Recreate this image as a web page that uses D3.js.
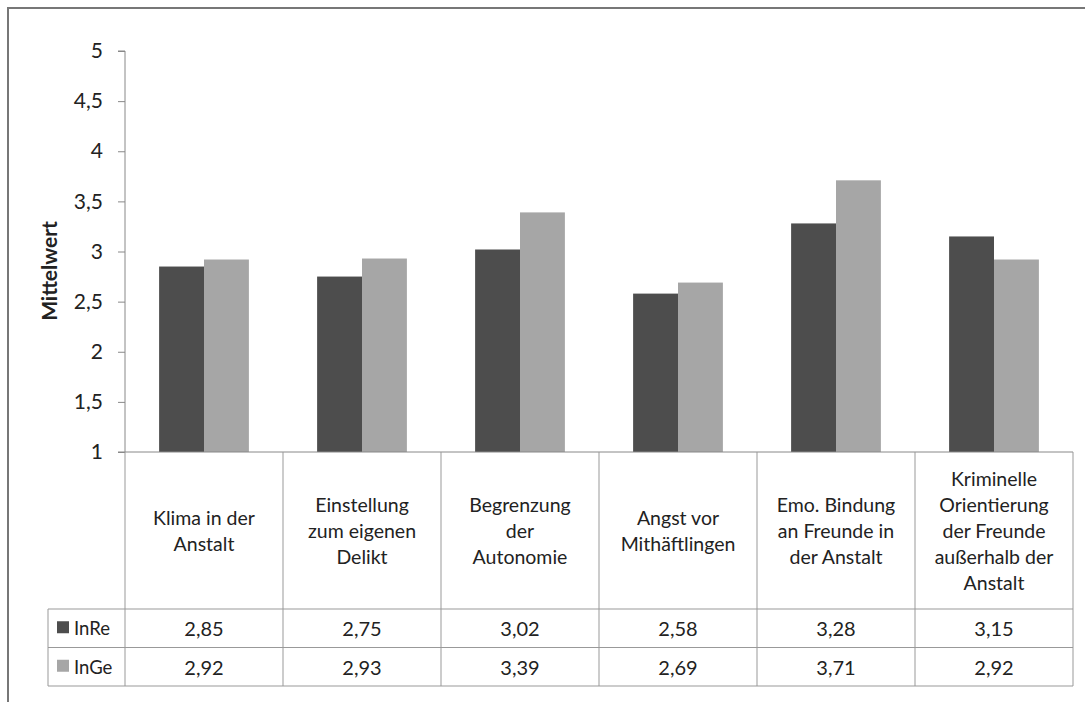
<!DOCTYPE html>
<html>
<head>
<meta charset="utf-8">
<script src="https://cdn.jsdelivr.net/npm/d3@7"></script>
<style>
  body { margin: 0; background: #fff; }
  text { font-family: Lato, "Open Sans", sans-serif; fill: #222; }
</style>
</head>
<body>
<script>
/* global d3 */

const categories = [
  ['Klima in der', 'Anstalt'],
  ['Einstellung', 'zum eigenen', 'Delikt'],
  ['Begrenzung', 'der', 'Autonomie'],
  ['Angst vor', 'Mithäftlingen'],
  ['Emo. Bindung', 'an Freunde in', 'der Anstalt'],
  ['Kriminelle', 'Orientierung', 'der Freunde', 'außerhalb der', 'Anstalt']
]
const seriesNames = ['InRe', 'InGe']
const inRe = [2.85, 2.75, 3.02, 2.58, 3.28, 3.15]
const inGe = [2.92, 2.93, 3.39, 2.69, 3.71, 2.92]
const yTicks = [1, 1.5, 2, 2.5, 3, 3.5, 4, 4.5, 5]
const colors = ['#4d4d4d', '#a6a6a6']

const W = 1085, H = 702
const plotL = 125, plotR = 1073, plotT = 51, base = 452
const headerBottom = 609, rowH = 38.5, legendLeft = 48

const fmt = v => d3.format('.2f')(v).replace('.', ',')

const svg = d3.select('body').append('svg')
  .attr('width', W)
  .attr('height', H)

// outer frame (top + left only visible)
svg.append('line').attr('x1', 7).attr('x2', W).attr('y1', 8).attr('y2', 8)
  .attr('stroke', '#777').attr('stroke-width', 2)
svg.append('line').attr('x1', 8).attr('x2', 8).attr('y1', 7).attr('y2', H)
  .attr('stroke', '#777').attr('stroke-width', 2)

const x = d3.scaleBand()
  .domain(d3.range(categories.length))
  .range([plotL, plotR])
  .paddingInner(0)
  .paddingOuter(0)

const xs = d3.scaleBand()
  .domain(seriesNames)
  .range([0, x.bandwidth()])
  .paddingInner(0)
  .paddingOuter(0.76)

const y = d3.scaleLinear()
  .domain([1, 5])
  .range([base, plotT])

// y axis
const yAxis = svg.append('g')
  .attr('transform', `translate(${plotL},0)`)
  .call(d3.axisLeft(y).tickValues(yTicks).tickSize(7).tickPadding(15)
    .tickFormat(d => String(d).replace('.', ',')))
yAxis.select('.domain').attr('stroke', '#888').attr('d', `M-7,${plotT}H0V${base}`)
yAxis.selectAll('.tick line').attr('stroke', '#888')
yAxis.selectAll('.tick text')
  .style('font-size', '21px')
  .style('font-family', 'Lato, sans-serif')
  .attr('fill', '#222')

svg.append('text')
  .attr('transform', `translate(57,271) rotate(-90)`)
  .attr('text-anchor', 'middle')
  .style('font-size', '21px')
  .style('font-weight', 'bold')
  .attr('fill', '#000')
  .text('Mittelwert')

// bars
const rows = [inRe, inGe]
seriesNames.forEach((s, si) => {
  svg.append('g').selectAll('rect')
    .data(rows[si])
    .join('rect')
    .attr('x', (d, i) => x(i) + xs(s))
    .attr('width', xs.bandwidth())
    .attr('y', d => y(d))
    .attr('height', d => y(1) - y(d))
    .attr('fill', colors[si])
})

// data table
const grid = '#999'
const tbl = svg.append('g').attr('stroke', grid).attr('fill', 'none')
tbl.append('line').attr('x1', plotL - 7).attr('x2', plotR).attr('y1', base).attr('y2', base)
  .attr('stroke', '#888')
d3.range(categories.length + 1).forEach(i => {
  const xx = i < categories.length ? x(i) : plotR
  tbl.append('line').attr('x1', xx).attr('x2', xx)
    .attr('y1', base).attr('y2', headerBottom + 2 * rowH)
})
d3.range(3).forEach(r => {
  const yy = headerBottom + r * rowH
  tbl.append('line').attr('x1', legendLeft).attr('x2', plotR).attr('y1', yy).attr('y2', yy)
})
tbl.append('line').attr('x1', legendLeft).attr('x2', legendLeft)
  .attr('y1', headerBottom).attr('y2', headerBottom + 2 * rowH)

// header labels
const lineH = 26
categories.forEach((lines, i) => {
  const cx = x(i) + x.bandwidth() / 2
  const cy = (base + headerBottom) / 2
  const y0 = cy - (lines.length - 1) * lineH / 2 + 7
  const t = svg.append('text')
    .attr('text-anchor', 'middle')
    .style('font-size', '19.5px')
  lines.forEach((l, k) => {
    t.append('tspan').attr('x', cx).attr('y', y0 + k * lineH).text(l)
  })
})

// value rows with legend
seriesNames.forEach((s, si) => {
  const ry = headerBottom + si * rowH
  svg.append('rect')
    .attr('x', 57).attr('y', ry + rowH / 2 - 7)
    .attr('width', 12).attr('height', 12)
    .attr('fill', colors[si])
  svg.append('text')
    .attr('x', 74).attr('y', ry + rowH / 2 + 7)
    .style('font-size', '18.5px')
    .text(s)
  svg.append('g').selectAll('text')
    .data(rows[si])
    .join('text')
    .attr('x', (d, i) => x(i) + x.bandwidth() / 2)
    .attr('y', ry + rowH / 2 + 8)
    .attr('text-anchor', 'middle')
    .style('font-size', '20px')
    .text(d => fmt(d))
})
</script>
</body>
</html>
